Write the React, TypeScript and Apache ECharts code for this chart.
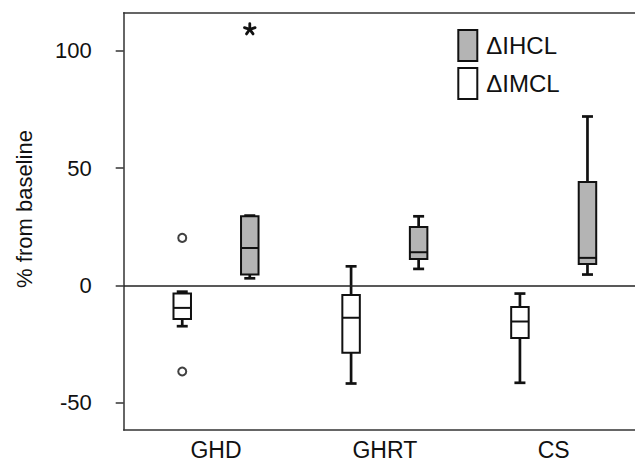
import React, { useEffect, useRef } from "react";
import * as echarts from "echarts";

const categories = ["GHD", "GHRT", "CS"];
const seriesNames = ["\u0394IHCL", "\u0394IMCL"];
// [xPosition, min, Q1, median, Q3, max]
const imclBoxes = [
  [0.8, -17.3, -14.2, -9.5, -3.4, -2.6],
  [1.8, -41.7, -28.6, -13.7, -4.0, 8.2],
  [2.8, -41.4, -22.3, -15.3, -9.1, -3.4],
];
const ihclBoxes = [
  [1.2, 3.1, 4.7, 16.0, 29.5, 29.8],
  [2.2, 7.1, 11.3, 14.2, 24.9, 29.5],
  [3.2, 4.7, 9.2, 11.8, 44.1, 72.0],
];
const imclOutliers = [
  [0.8, 20.3],
  [0.8, -36.6],
];
const ihclExtremes = [[1.2, 109.1]];
const yTicks = [-50, 0, 50, 100];
const xTicks = [1, 2, 3];

const X_MIN = 0.4533;
const X_MAX = 3.4815;
const Y_MIN = -61.5;
const Y_MAX = 116.2;
const BOX_W = 0.1036;
const FONT = '"Liberation Sans", Arial, sans-serif';
const INK = "#111";
const AXIS = "#333";
const GRAY = "#b4b4b4";

const renderBox = (fill: string) => (params: any, api: any) => {
  const x = api.value(0);
  const vMin = api.value(1);
  const vQ1 = api.value(2);
  const vMed = api.value(3);
  const vQ3 = api.value(4);
  const vMax = api.value(5);
  const [cx, yMin] = api.coord([x, vMin]);
  const yQ1 = api.coord([x, vQ1])[1];
  const yMed = api.coord([x, vMed])[1];
  const yQ3 = api.coord([x, vQ3])[1];
  const yMax = api.coord([x, vMax])[1];
  const halfW = api.size([BOX_W, 0])[0] / 2;
  const capHalf = 5.5;
  return {
    type: "group",
    children: [
      { type: "line", shape: { x1: cx, y1: yMax, x2: cx, y2: yMin }, style: { stroke: INK, lineWidth: 2.7 } },
      { type: "line", shape: { x1: cx - capHalf, y1: yMax, x2: cx + capHalf, y2: yMax }, style: { stroke: INK, lineWidth: 2.7 } },
      { type: "line", shape: { x1: cx - capHalf, y1: yMin, x2: cx + capHalf, y2: yMin }, style: { stroke: INK, lineWidth: 2.7 } },
      {
        type: "rect",
        shape: { x: cx - halfW, y: yQ3, width: 2 * halfW, height: yQ1 - yQ3 },
        style: { fill, stroke: INK, lineWidth: 2 },
      },
      { type: "line", shape: { x1: cx - halfW, y1: yMed, x2: cx + halfW, y2: yMed }, style: { stroke: INK, lineWidth: 2 } },
    ],
  };
};

const renderStar = (params: any, api: any) => {
  const [cx, cy] = api.coord([api.value(0), api.value(1)]);
  const r = 5.6;
  const children: any[] = [];
  for (let k = 0; k < 5; k++) {
    const a = -Math.PI / 2 + (k * 2 * Math.PI) / 5;
    children.push({
      type: "line",
      shape: { x1: cx, y1: cy, x2: cx + r * Math.cos(a), y2: cy + r * Math.sin(a) },
      style: { stroke: INK, lineWidth: 2.8, lineCap: "round" },
    });
  }
  return { type: "group", children };
};

export default function App() {
  const ref = useRef<HTMLDivElement>(null);
  useEffect(() => {
    document.body.style.margin = "0";
    if (!ref.current) return;
    const chart = echarts.init(ref.current, null, { renderer: "svg" });
    chart.setOption({
      animation: false,
      backgroundColor: "#fff",
      grid: { left: 123.7, right: 0, top: 12.7, bottom: 30.3, containLabel: false },
      legend: {
        orient: "vertical",
        left: 457.3,
        top: 29,
        padding: 0,
        itemWidth: 19,
        itemHeight: 31,
        itemGap: 5,
        selectedMode: false,
        textStyle: { fontFamily: FONT, fontSize: 24, color: INK, padding: [0, 0, 0, 4] },
        data: [
          { name: seriesNames[0], icon: "rect", itemStyle: { color: GRAY, borderColor: INK, borderWidth: 2 } },
          { name: seriesNames[1], icon: "rect", itemStyle: { color: "#fff", borderColor: INK, borderWidth: 2 } },
        ],
      },
      xAxis: [
        {
          type: "value",
          min: X_MIN,
          max: X_MAX,
          splitLine: { show: false },
          axisLine: { show: true, onZero: false, lineStyle: { color: AXIS, width: 1.5 } },
          axisTick: { show: false },
          axisLabel: {
            customValues: xTicks,
            formatter: (v: number) => categories[Math.round(v) - 1] ?? "",
            fontFamily: FONT,
            fontSize: 23,
            color: INK,
            margin: 8,
          },
        },
        {
          type: "value",
          position: "top",
          min: X_MIN,
          max: X_MAX,
          splitLine: { show: false },
          axisLine: { show: true, onZero: false, lineStyle: { color: AXIS, width: 1.5 } },
          axisTick: { show: false },
          axisLabel: { show: false },
        },
      ],
      yAxis: {
        type: "value",
        min: Y_MIN,
        max: Y_MAX,
        splitLine: { show: false },
        axisLine: { show: true, onZero: false, lineStyle: { color: AXIS, width: 1.5 } },
        axisTick: { show: true, length: 8, customValues: yTicks, lineStyle: { color: AXIS, width: 1.5 } },
        axisLabel: { customValues: yTicks, fontFamily: FONT, fontSize: 22, color: INK, margin: 32 },
      },
      graphic: [
        {
          type: "text",
          x: 24,
          y: 209,
          rotation: Math.PI / 2,
          style: {
            text: "% from baseline",
            font: `22px ${FONT}`,
            fill: INK,
            align: "center",
            verticalAlign: "middle",
          },
        },
      ],
      series: [
        {
          name: seriesNames[1],
          type: "custom",
          renderItem: renderBox("#fff"),
          encode: { x: 0, y: [1, 2, 3, 4, 5] },
          itemStyle: { color: "#fff", borderColor: INK },
          data: imclBoxes,
          markLine: {
            silent: true,
            symbol: ["none", "none"],
            label: { show: false },
            lineStyle: { color: "#222", width: 1.5, type: "solid" },
            data: [{ yAxis: 0 }],
          },
        },
        {
          name: seriesNames[0],
          type: "custom",
          renderItem: renderBox(GRAY),
          encode: { x: 0, y: [1, 2, 3, 4, 5] },
          itemStyle: { color: GRAY, borderColor: INK },
          data: ihclBoxes,
        },
        {
          name: "outliers",
          type: "scatter",
          symbol: "circle",
          symbolSize: 8,
          itemStyle: { color: "#fff", borderColor: INK, borderWidth: 2 },
          data: imclOutliers,
        },
        {
          name: "extremes",
          type: "custom",
          renderItem: renderStar,
          encode: { x: 0, y: 1 },
          data: ihclExtremes,
        },
      ],
    });
    return () => chart.dispose();
  }, []);
  return <div ref={ref} style={{ width: 635, height: 461 }} />;
}
